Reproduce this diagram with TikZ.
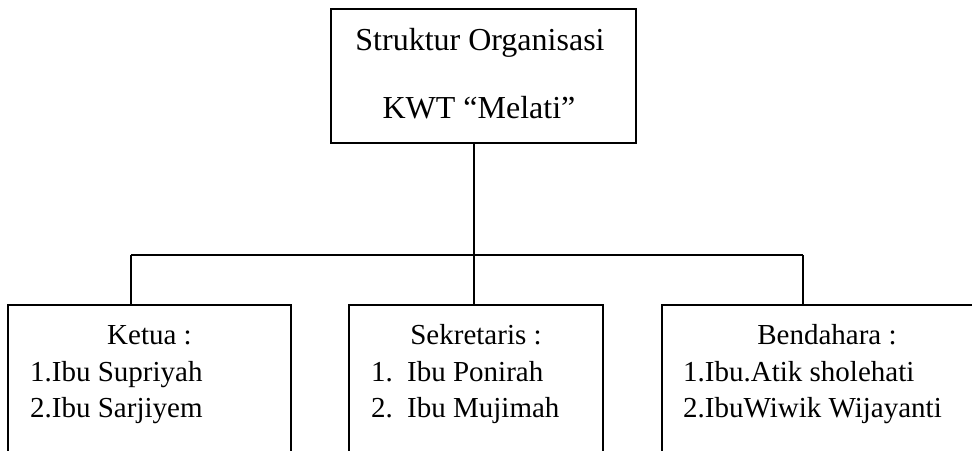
\documentclass[tikz,border=0pt]{standalone}
\usepackage{fontspec}
\setmainfont{Liberation Serif}
\begin{document}
\begin{tikzpicture}[x=1pt,y=-1pt,
  box/.style={draw,line width=1.1pt,inner sep=0pt},
  conn/.style={line width=1.1pt},
  big/.style={font=\fontsize{32}{38}\selectfont,inner sep=0pt,anchor=base},
  small/.style={font=\fontsize{29}{35}\selectfont,inner sep=0pt,anchor=base},
  item/.style={small,anchor=base west}]
\useasboundingbox (0,0) rectangle (972,450);
\clip (0,0) rectangle (972,450);
% boxes
\node[box,minimum width=305pt,minimum height=134pt] (top) at (483.5,76) {};
\node[box,minimum width=283pt,minimum height=200pt] (b1) at (149.5,405) {};
\node[box,minimum width=254pt,minimum height=200pt] (b2) at (476,405) {};
\node[box,minimum width=330pt,minimum height=200pt] (b3) at (827,405) {};
% top texts
\node[big] (t1) at (480,50) {Struktur Organisasi};
\node[big] (t2) at (479,118) {KWT “Melati”};
% bottom texts
\node[small] (h1) at (149.5,344) {Ketua :};
\node[item] (k1) at (30,381) {1.Ibu Supriyah};
\node[item] (k2) at (30,417) {2.Ibu Sarjiyem};
\node[small] (h2) at (476,344) {Sekretaris :};
\node[item] (s1n) at (371,381) {1.};
\node[item] (s1) at (407,381) {Ibu Ponirah};
\node[item] (s2n) at (371,417) {2.};
\node[item] (s2) at (407,417) {Ibu Mujimah};
\node[small] (h3) at (827,344) {Bendahara :};
\node[item] (d1) at (683,381) {1.Ibu.Atik sholehati};
\node[item] (d2) at (683,417) {2.IbuWiwik Wijayanti};
% connectors
\coordinate (j) at (474,255);
\coordinate (c1) at (131,255);
\coordinate (c3) at (803,255);
\draw[conn] (top.south -| j) -- (j);
\draw[conn] (c1) -- (c3);
\draw[conn] (c1) -- (c1 |- b1.north);
\draw[conn] (j) -- (j |- b2.north);
\draw[conn] (c3) -- (c3 |- b3.north);
\end{tikzpicture}
\end{document}
